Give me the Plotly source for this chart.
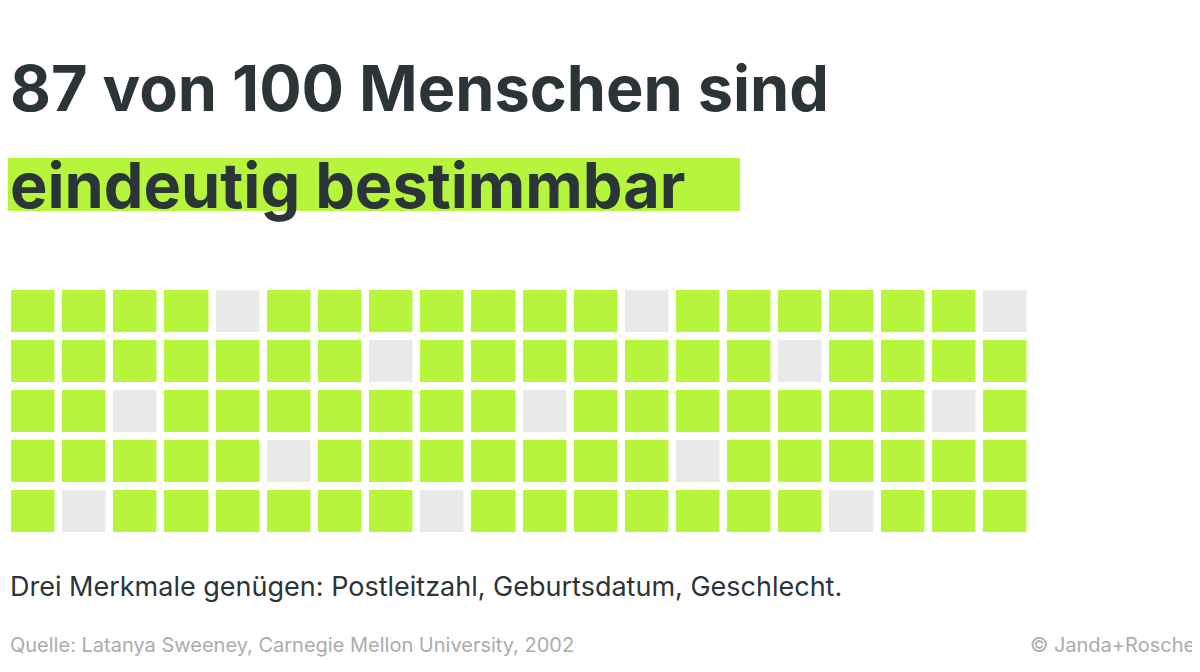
import plotly.graph_objects as go

rows = 5
cols = 20
# grey (not uniquely identifiable) cells: (row from top, column), 1-based
grey_cells = [(1,5),(1,13),(1,20),(2,8),(2,16),(3,3),(3,11),(3,19),(4,6),(4,14),(5,2),(5,9),(5,17)]
title1 = "87 von 100 Menschen sind"
title2 = "eindeutig bestimmbar"
subtitle = "Drei Merkmale genügen: Postleitzahl, Geburtsdatum, Geschlecht."
source = "Quelle: Latanya Sweeney, Carnegie Mellon University, 2002"
credit = "© Janda+Roscher"

z = [[1]*cols for _ in range(rows)]
for r, c in grey_cells:
    z[r-1][c-1] = 0

GREEN = "#b6f53c"
GREY = "#e8eaea"
DARK = "#2b3538"

fig = go.Figure(go.Heatmap(
    z=z, x=list(range(1, cols+1)), y=list(range(1, rows+1)),
    colorscale=[[0, GREY], [1, GREEN]], zmin=0, zmax=1,
    xgap=7.5, ygap=8, showscale=False, hoverinfo="skip"))

fig.update_layout(
    width=1200, height=672, plot_bgcolor="white", paper_bgcolor="white",
    margin=dict(l=0, r=177, t=278, b=144, pad=0, autoexpand=False),
    xaxis=dict(visible=False, range=[0.5, cols+0.5], fixedrange=True),
    yaxis=dict(visible=False, range=[rows+0.5, 0.5], fixedrange=True),
    font=dict(family="Inter, sans-serif", color=DARK),
)
fig.add_shape(type="rect", xref="paper", yref="paper", x0=0, x1=0.7155, y0=1.30, y1=1.512,
              fillcolor=GREEN, line=dict(width=0), layer="below")
fig.add_annotation(text=f"<b>{title1}</b>", xref="paper", yref="paper", x=0, y=1.792,
                   xanchor="left", yanchor="middle", showarrow=False, font=dict(size=63, color=DARK))
fig.add_annotation(text=f"<b>{title2}</b>", xref="paper", yref="paper", x=0, y=1.404,
                   xanchor="left", yanchor="middle", showarrow=False, font=dict(size=63, color=DARK))
fig.add_annotation(text=subtitle, xref="paper", yref="paper", x=0, y=-0.2,
                   xanchor="left", yanchor="middle", showarrow=False, font=dict(size=27, color=DARK))
fig.add_annotation(text=source, xref="paper", yref="paper", x=0, y=-0.436,
                   xanchor="left", yanchor="middle", showarrow=False, font=dict(size=20, color="#a9adad"))
fig.add_annotation(text=credit, xref="paper", yref="paper", x=1197/1023, y=-0.436,
                   xanchor="right", yanchor="middle", showarrow=False, font=dict(size=20, color="#a9adad"))
fig.write_html("out.html")
